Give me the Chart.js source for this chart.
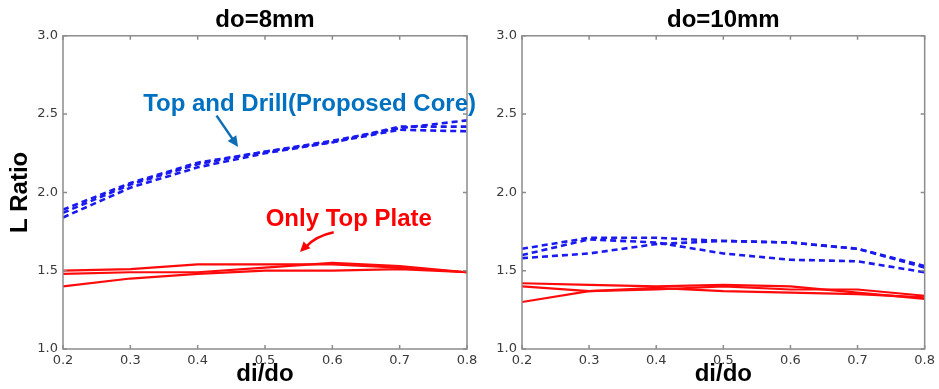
<!DOCTYPE html>
<html>
<head>
<meta charset="utf-8">
<script src="https://cdn.jsdelivr.net/npm/chart.js@4.4.1/dist/chart.umd.min.js"></script>
<style>
  body { margin: 0; background: #fff; }
  #wrap { position: relative; width: 939px; height: 389px; }
  canvas { position: absolute; top: 0; }
  #left { left: 0; }
  #right { left: 485px; }
</style>
</head>
<body>
<div id="wrap">
  <canvas id="left" width="485" height="389"></canvas>
  <canvas id="right" width="454" height="389"></canvas>
</div>
<script>
// data
const diRatio = [0.2, 0.3, 0.4, 0.5, 0.6, 0.7, 0.8]

// do = 8mm
const drill8a = [1.89, 2.06, 2.19, 2.26, 2.33, 2.41, 2.46]
const drill8b = [1.84, 2.03, 2.16, 2.25, 2.32, 2.40, 2.39]
const drill8c = [1.87, 2.05, 2.18, 2.26, 2.32, 2.42, 2.42]
const plate8a = [1.50, 1.51, 1.54, 1.54, 1.54, 1.52, 1.49]
const plate8b = [1.48, 1.49, 1.49, 1.52, 1.55, 1.53, 1.49]
const plate8c = [1.40, 1.45, 1.48, 1.50, 1.50, 1.51, 1.49]

// do = 10mm
const drill10a = [1.64, 1.71, 1.71, 1.69, 1.68, 1.64, 1.53]
const drill10b = [1.60, 1.70, 1.68, 1.61, 1.57, 1.56, 1.49]
const drill10c = [1.58, 1.61, 1.67, 1.69, 1.68, 1.64, 1.52]
const plate10a = [1.42, 1.41, 1.40, 1.41, 1.40, 1.36, 1.32]
const plate10b = [1.40, 1.37, 1.38, 1.40, 1.38, 1.38, 1.34]
const plate10c = [1.30, 1.37, 1.39, 1.37, 1.36, 1.35, 1.33]

const titles = ['do=8mm', 'do=10mm']
const xLabel = 'di/do'
const yLabel = 'L Ratio'
const drillLabel = 'Top and Drill(Proposed Core)'
const plateLabel = 'Only Top Plate'

const BOLD = '"Liberation Sans", Arial, sans-serif'
const TICK = '"DejaVu Sans", sans-serif'

const toPoints = (vals) => vals.map((v, i) => ({ x: diRatio[i], y: v }))

const drillSet = (vals) => ({
  data: toPoints(vals),
  borderColor: 'rgb(25,25,240)',
  borderWidth: 2.6,
  borderDash: [6, 4],
  pointRadius: 0,
  tension: 0,
  fill: false
})
const plateSet = (vals) => ({
  data: toPoints(vals),
  borderColor: 'rgb(255,10,10)',
  borderWidth: 2.2,
  pointRadius: 0,
  tension: 0,
  fill: false
})

/////////////////////////////////
// frame + inward ticks like matplotlib
/////////////////////////////////
const framePlugin = {
  id: 'frame',
  afterDatasetsDraw(chart) {
    const { ctx, chartArea: a, scales: { x, y } } = chart
    ctx.save()
    ctx.strokeStyle = '#8c8c8c'
    ctx.lineWidth = 1.5
    ctx.strokeRect(a.left, a.top, a.right - a.left, a.bottom - a.top)
    ctx.beginPath()
    x.ticks.forEach(t => {
      const px = x.getPixelForValue(t.value)
      ctx.moveTo(px, a.top); ctx.lineTo(px, a.top + 4)
      ctx.moveTo(px, a.bottom); ctx.lineTo(px, a.bottom - 4)
    })
    y.ticks.forEach(t => {
      const py = y.getPixelForValue(t.value)
      ctx.moveTo(a.left, py); ctx.lineTo(a.left + 4, py)
      ctx.moveTo(a.right, py); ctx.lineTo(a.right - 4, py)
    })
    ctx.stroke()
    ctx.restore()
  }
}

const arrowHead = (ctx, fx, fy, tx, ty, size) => {
  const ang = Math.atan2(ty - fy, tx - fx)
  ctx.beginPath()
  ctx.moveTo(tx, ty)
  ctx.lineTo(tx - size * Math.cos(ang - 0.45), ty - size * Math.sin(ang - 0.45))
  ctx.lineTo(tx - size * Math.cos(ang + 0.45), ty - size * Math.sin(ang + 0.45))
  ctx.closePath()
  ctx.fill()
}

// labels + arrows, placed in data coordinates of the left panel
const notePlugin = {
  id: 'notes',
  afterDraw(chart) {
    const { ctx, scales: { x, y } } = chart
    ctx.save()
    ctx.font = 'bold 24px ' + BOLD
    ctx.textAlign = 'left'
    ctx.textBaseline = 'middle'

    ctx.fillStyle = '#0070c0'
    ctx.fillText(drillLabel, x.getPixelForValue(0.319), y.getPixelForValue(2.56))
    let fx = x.getPixelForValue(0.428), fy = y.getPixelForValue(2.49)
    let tx = x.getPixelForValue(0.460), ty = y.getPixelForValue(2.29)
    ctx.strokeStyle = '#0c6db5'
    ctx.fillStyle = '#0c6db5'
    ctx.lineWidth = 2.5
    ctx.beginPath(); ctx.moveTo(fx, fy); ctx.lineTo(tx - (tx - fx) * 0.25, ty - (ty - fy) * 0.25); ctx.stroke()
    arrowHead(ctx, fx, fy, tx, ty, 12)

    ctx.fillStyle = '#ff0000'
    ctx.fillText(plateLabel, x.getPixelForValue(0.501), y.getPixelForValue(1.83))
    fx = x.getPixelForValue(0.602); fy = y.getPixelForValue(1.745)
    tx = x.getPixelForValue(0.552); ty = y.getPixelForValue(1.62)
    const cx = x.getPixelForValue(0.575), cy = y.getPixelForValue(1.72)
    ctx.strokeStyle = '#ff0000'
    ctx.beginPath(); ctx.moveTo(fx, fy); ctx.quadraticCurveTo(cx, cy, tx + 6, ty - 5); ctx.stroke()
    arrowHead(ctx, cx, cy, tx, ty, 11)
    ctx.restore()
  }
}

const makeChart = (id, title, datasets, yAxisWidth, rightPad, showYTitle, extra) => {
  return new Chart(document.getElementById(id), {
    type: 'line',
    data: { datasets },
    plugins: [framePlugin].concat(extra),
    options: {
      responsive: false,
      animation: false,
      devicePixelRatio: 1,
      layout: { padding: { left: 0, right: rightPad, top: 0, bottom: 0 } },
      plugins: {
        legend: { display: false },
        tooltip: { enabled: false },
        title: {
          display: true,
          text: title,
          fullSize: false,
          color: '#000',
          font: { family: BOLD, size: 24, weight: 'bold', lineHeight: 1.2 },
          padding: { top: 6, bottom: 1 }
        }
      },
      scales: {
        x: {
          type: 'linear',
          min: 0.2,
          max: 0.8,
          grid: { display: false, drawTicks: false },
          border: { display: false },
          ticks: {
            stepSize: 0.1,
            padding: 4,
            color: '#3a3a3a',
            font: { family: TICK, size: 13 },
            callback: v => v.toFixed(1)
          },
          title: {
            display: true,
            text: xLabel,
            color: '#000',
            font: { family: BOLD, size: 24, weight: 'bold', lineHeight: 1.2 },
            padding: { top: 0, bottom: 0 }
          },
          afterFit: s => { s.height = 40 }
        },
        y: {
          min: 1,
          max: 3,
          grid: { display: false, drawTicks: false },
          border: { display: false },
          ticks: {
            stepSize: 0.5,
            padding: 5,
            color: '#3a3a3a',
            font: { family: TICK, size: 13 },
            callback: v => v.toFixed(1)
          },
          title: {
            display: showYTitle,
            text: yLabel,
            color: '#000',
            font: { family: BOLD, size: 24, weight: 'bold', lineHeight: 1.2 },
            padding: { top: 6, bottom: 0 }
          },
          afterFit: s => { s.width = yAxisWidth }
        }
      }
    }
  })
}

makeChart('left', titles[0], [
  drillSet(drill8a), drillSet(drill8b), drillSet(drill8c),
  plateSet(plate8a), plateSet(plate8b), plateSet(plate8c)
], 63, 18, true, [notePlugin])

makeChart('right', titles[1], [
  drillSet(drill10a), drillSet(drill10b), drillSet(drill10c),
  plateSet(plate10a), plateSet(plate10b), plateSet(plate10c)
], 37, 13, false, [])
</script>
</body>
</html>
